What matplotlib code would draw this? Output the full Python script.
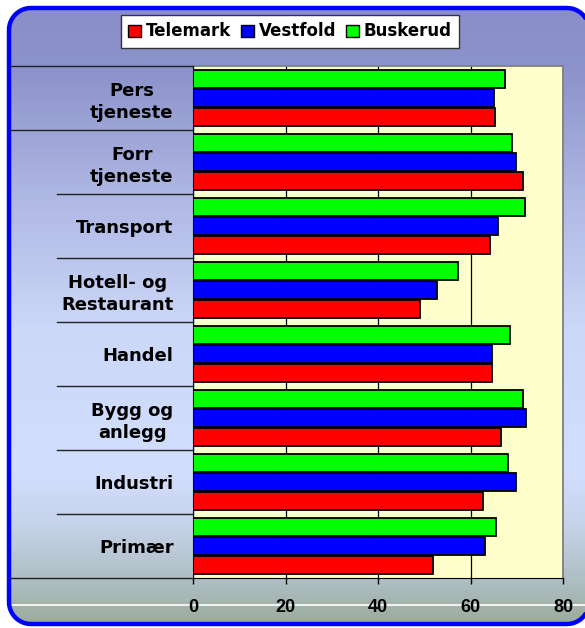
import numpy as np
import matplotlib
matplotlib.use("Agg")
import matplotlib.pyplot as plt
from matplotlib.patches import Polygon, Patch
from matplotlib.colors import to_rgb
import matplotlib.transforms as mtransforms

# data
kategorier = ["Primær", "Industri", "Bygg og\nanlegg", "Handel",
              "Hotell- og\nRestaurant", "Transport", "Forr\ntjeneste", "Pers\ntjeneste"]
telemark = [51.9, 62.8, 66.7, 64.7, 49.1, 64.3, 71.4, 65.4]
vestfold = [63.1, 69.8, 72.1, 64.7, 52.7, 66.0, 69.8, 65.0]
buskerud = [65.5, 68.2, 71.4, 68.6, 57.4, 71.8, 69.0, 67.4]
serier = ["Telemark", "Vestfold", "Buskerud"]
farger = ["#FF0000", "#0000FF", "#00FF00"]
xticks = [0, 20, 40, 60, 80]

W, H = 585, 628


def avrundet(x0, y0, x1, y1, r, n=20):
    # hjørner som polygon (y oppover)
    pts = []
    for cx, cy, a0 in [(x1 - r, y1 - r, 0), (x0 + r, y1 - r, 90),
                       (x0 + r, y0 + r, 180), (x1 - r, y0 + r, 270)]:
        t = np.radians(np.linspace(a0, a0 + 90, n))
        pts += list(zip(cx + r * np.cos(t), cy + r * np.sin(t)))
    return pts


fig = plt.figure(figsize=(W / 100, H / 100), dpi=100)
fig.patch.set_facecolor("white")

# bakgrunn med gradient (y målt fra toppen i piksler)
bg = fig.add_axes([0, 0, 1, 1], zorder=0)
bg.set_xlim(0, W)
bg.set_ylim(0, H)
bg.axis("off")
stopp = [(0, "#8A8EC6"), (66, "#8C92CA"), (200, "#B0B8E4"), (330, "#CCD8F8"),
         (470, "#D2DEFD"), (520, "#C8D4EC"), (578, "#AFBFC4"), (604, "#A4B4AC"),
         (628, "#98A898")]
ys = np.arange(H)
rgb = np.array([to_rgb(c) for _, c in stopp])
pos = np.array([p for p, _ in stopp])
grad = np.stack([np.interp(ys, pos, rgb[:, i]) for i in range(3)], axis=1)
img = np.repeat(grad[:, None, :], 2, axis=1)
ramme = Polygon(avrundet(9, H - 624, 589, H - 8, 22), closed=True,
                facecolor="none", edgecolor="#0000FF", linewidth=3.2, zorder=5)
bg.add_patch(ramme)
im = bg.imshow(img, extent=(0, W, 0, H), origin="upper", aspect="auto", zorder=1)
im.set_clip_path(ramme)
hvit = bg.plot([9, W], [H - 605, H - 605], color="white", lw=1.2, zorder=2)[0]
hvit.set_clip_path(ramme)

# plott
ax = fig.add_axes([193 / W, 1 - 578 / H, 370 / W, 512 / H], zorder=2)
ax.set_facecolor("#FFFFCC")
y = np.arange(len(kategorier))
h = 0.29
d = 0.295
for verdier, farge, off in zip([telemark, vestfold, buskerud], farger, [-d, 0, d]):
    ax.barh(y + off, verdier, height=h, color=farge, edgecolor="black",
            linewidth=1.3, zorder=3)

ax.set_xlim(0, 80)
ax.set_ylim(-0.5, len(kategorier) - 0.5)
ax.set_xticks(xticks)
ax.set_xticklabels([str(v) for v in xticks], fontfamily="Liberation Sans",
                   fontweight="bold", fontsize=13)
ax.tick_params(axis="x", direction="out", length=4, width=1, pad=11, color="black")
ax.set_yticks(y)
ax.set_yticklabels(kategorier, fontfamily="DejaVu Sans", fontweight="bold",
                   fontsize=13, multialignment="center", linespacing=1.3)
ax.tick_params(axis="y", length=0, pad=14)
ax.grid(axis="x", color="black", linewidth=0.9, zorder=1)
for s in ["top", "right"]:
    ax.spines[s].set_color("#808080")
    ax.spines[s].set_linewidth(1.3)
ax.spines["left"].set_color("black")
ax.spines["bottom"].set_color("black")

# skillelinjer mellom kategorier
trans = mtransforms.blended_transform_factory(fig.transFigure, ax.transData)
for b in np.arange(-0.5, len(kategorier), 1.0):
    x0 = 10 / W if b in (-0.5, len(kategorier) - 1.5, len(kategorier) - 0.5) else 57 / W
    ax.plot([x0, 193 / W], [b, b], transform=trans, color="#222222", lw=1,
            clip_on=False, zorder=4)

# legend
handles = [Patch(facecolor=f, edgecolor="black", linewidth=1) for f in farger]
leg = fig.legend(handles, serier, loc="center", bbox_to_anchor=(290 / W, 1 - 31.5 / H),
                 ncol=3, frameon=True, fancybox=False, framealpha=1, handlelength=0.75,
                 handleheight=0.75, handletextpad=0.3, columnspacing=0.6,
                 borderpad=0.45, prop={"family": "DejaVu Sans", "weight": "bold", "size": 12})
leg.get_frame().set_facecolor("white")
leg.get_frame().set_edgecolor("#333333")
leg.get_frame().set_linewidth(1)
leg.set_zorder(6)

fig.savefig("out.png", dpi=100)
